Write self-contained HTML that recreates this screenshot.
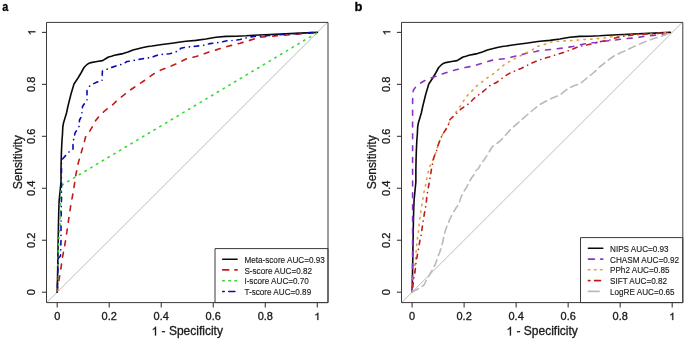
<!DOCTYPE html>
<html><head><meta charset="utf-8"><title>ROC curves</title>
<style>html,body{margin:0;padding:0;background:#fff;width:685px;height:340px;overflow:hidden}svg{display:block;filter:blur(0.4px)}text{font-family:"Liberation Sans",sans-serif;filter:grayscale(1);stroke:#1a1a1a;stroke-width:0.3px}text.lg{stroke-width:0.15px}</style>
</head><body>
<svg width="685" height="340" viewBox="0 0 685 340" font-family="Liberation Sans, sans-serif" stroke-linejoin="round">
<rect width="685" height="340" fill="#fff"/>
<line x1="46.80" y1="302.59" x2="327.70" y2="22.01" stroke="#bdbdbd" stroke-width="1"/>
<polyline points="57.20,292.20 57.60,275.00 57.90,258.00 58.10,245.00 58.30,234.00 58.50,222.00 58.80,210.00 59.20,200.00 60.00,192.00 61.00,182.00 61.00,170.00 61.20,160.00 61.50,150.00 62.00,140.00 62.50,134.00 62.80,127.00 63.50,123.00 65.00,118.00 66.50,113.00 68.00,106.00 69.50,100.00 71.00,94.00 72.50,89.00 74.00,84.00 76.00,81.00 78.00,78.00 81.00,73.00 84.00,67.50 86.50,65.00 88.00,63.80 91.00,62.60 97.00,61.50 102.60,60.60 105.60,58.80 108.50,57.00 111.50,56.20 114.40,55.30 119.00,54.40 123.00,53.60 128.00,52.00 133.00,50.00 138.00,48.80 143.00,47.50 148.00,46.50 152.00,46.00 162.00,44.50 172.00,43.20 182.00,41.80 186.00,41.20 196.00,40.40 206.00,39.00 216.00,37.20 226.00,36.40 236.00,36.20 246.00,35.80 254.00,35.20 270.00,34.50 290.00,33.60 317.35,32.40" fill="none" stroke="#0a0a0a" stroke-width="1.6" stroke-linecap="round" stroke-linejoin="round"/>
<polyline points="57.20,292.20 58.00,286.00 59.00,280.00 61.00,268.00 62.00,260.00 63.50,252.00 65.00,244.00 67.00,231.00 68.00,224.00 70.50,207.00 72.50,196.00 74.50,184.00 76.00,174.00 78.50,162.00 80.00,157.00 82.00,150.00 84.00,143.50 85.50,137.00 89.00,132.50 92.50,126.50 95.00,121.50 98.50,117.00 103.50,112.00 107.50,108.50 113.00,104.50 118.00,99.50 122.00,96.50 127.50,92.00 132.50,88.50 138.50,84.50 144.50,80.50 149.00,77.50 152.00,75.00 157.00,72.00 162.00,69.50 165.00,68.50 171.00,66.00 176.00,64.00 182.00,61.00 186.00,59.00 196.00,56.50 204.00,53.80 210.00,51.60 215.00,50.30 221.60,48.10 228.00,46.30 234.40,44.60 240.00,43.20 246.00,41.50 254.00,39.00 260.00,37.20 280.00,35.50 300.00,34.00 317.35,32.40" fill="none" stroke="#c21a1a" stroke-width="1.6" stroke-linecap="round" stroke-linejoin="round" stroke-dasharray="4.90,6.90"/>
<polyline points="57.20,292.20 57.80,270.00 58.50,250.00 59.00,236.00 60.00,226.00 60.30,208.00 60.80,193.00 62.50,184.70 317.35,32.60" fill="none" stroke="#35d835" stroke-width="1.6" stroke-linecap="round" stroke-linejoin="round" stroke-dasharray="1.40,5.30"/>
<polyline points="57.20,292.20 57.60,280.00 58.00,265.00 58.50,258.00 60.50,256.00 61.00,240.00 61.00,226.00 61.30,205.00 61.50,198.00 61.50,185.00 61.50,174.00 61.50,160.00 63.00,158.50 67.00,154.00 70.00,151.00 73.00,149.00 73.00,142.00 74.00,138.00 75.00,133.00 77.00,130.00 79.00,126.50 79.50,120.00 81.50,116.50 82.00,112.00 82.50,106.50 84.50,103.50 87.00,100.00 87.00,90.00 90.00,85.60 97.00,82.00 102.00,81.00 102.40,71.00 105.00,70.00 110.00,68.00 118.00,65.20 123.00,64.20 127.00,61.50 131.00,61.00 136.00,60.00 141.00,59.00 146.00,58.20 151.00,57.50 155.00,56.00 159.00,54.50 164.00,54.30 169.50,53.80 174.00,52.50 178.00,51.00 181.00,48.20 186.00,47.20 196.00,46.20 205.00,45.00 210.00,43.60 220.00,42.30 228.00,40.60 235.00,40.40 240.00,39.50 245.00,38.20 250.00,37.00 254.00,36.50 270.00,35.50 290.00,34.00 317.35,32.40" fill="none" stroke="#0b0bb0" stroke-width="1.6" stroke-linecap="round" stroke-linejoin="round" stroke-dasharray="0.10,4.90,4.40,5.00"/>
<rect x="215.0" y="248.6" width="113.00" height="54.00" fill="#fff" stroke="#3a3a3a" stroke-width="1"/>
<line x1="222.70000000000002" y1="259.2" x2="237.1" y2="259.2" stroke="#0a0a0a" stroke-width="1.6" stroke-linecap="round"/>
<text class="lg" transform="translate(244.4,262.80) scale(0.858,1)" font-size="9.5" fill="#1a1a1a">Meta-score AUC=0.93</text>
<line x1="222.70000000000002" y1="269.9" x2="237.1" y2="269.9" stroke="#c21a1a" stroke-width="1.6" stroke-linecap="round" stroke-dasharray="6.10,6.10"/>
<text class="lg" transform="translate(244.4,273.50) scale(0.858,1)" font-size="9.5" fill="#1a1a1a">S-score AUC=0.82</text>
<line x1="222.70000000000002" y1="280.7" x2="237.1" y2="280.7" stroke="#35d835" stroke-width="1.6" stroke-linecap="round" stroke-dasharray="1.52,4.57"/>
<text class="lg" transform="translate(244.4,284.30) scale(0.858,1)" font-size="9.5" fill="#1a1a1a">I-score AUC=0.70</text>
<line x1="222.70000000000002" y1="291.5" x2="237.1" y2="291.5" stroke="#0b0bb0" stroke-width="1.6" stroke-linecap="round" stroke-dasharray="1.52,4.57,6.10,4.57"/>
<text class="lg" transform="translate(244.4,295.10) scale(0.858,1)" font-size="9.5" fill="#1a1a1a">T-score AUC=0.89</text>
<rect x="46.50" y="22.40" width="281.50" height="280.20" fill="none" stroke="#3a3a3a" stroke-width="1"/>
<line x1="57.20" y1="302.60" x2="57.20" y2="307.40" stroke="#3a3a3a" stroke-width="1.1"/>
<text transform="translate(57.20,320.0) scale(1.1,1)" font-size="10" text-anchor="middle" fill="#1a1a1a">0</text>
<line x1="46.50" y1="292.20" x2="41.90" y2="292.20" stroke="#3a3a3a" stroke-width="1.1"/>
<text transform="translate(35.30,292.20) rotate(-90) scale(1.1,1)" x="0" y="0" font-size="10" text-anchor="middle" fill="#1a1a1a">0</text>
<line x1="109.22" y1="302.60" x2="109.22" y2="307.40" stroke="#3a3a3a" stroke-width="1.1"/>
<text transform="translate(109.22,320.0) scale(1.1,1)" font-size="10" text-anchor="middle" fill="#1a1a1a">0.2</text>
<line x1="46.50" y1="240.24" x2="41.90" y2="240.24" stroke="#3a3a3a" stroke-width="1.1"/>
<text transform="translate(35.30,240.24) rotate(-90) scale(1.1,1)" x="0" y="0" font-size="10" text-anchor="middle" fill="#1a1a1a">0.2</text>
<line x1="161.24" y1="302.60" x2="161.24" y2="307.40" stroke="#3a3a3a" stroke-width="1.1"/>
<text transform="translate(161.24,320.0) scale(1.1,1)" font-size="10" text-anchor="middle" fill="#1a1a1a">0.4</text>
<line x1="46.50" y1="188.28" x2="41.90" y2="188.28" stroke="#3a3a3a" stroke-width="1.1"/>
<text transform="translate(35.30,188.28) rotate(-90) scale(1.1,1)" x="0" y="0" font-size="10" text-anchor="middle" fill="#1a1a1a">0.4</text>
<line x1="213.26" y1="302.60" x2="213.26" y2="307.40" stroke="#3a3a3a" stroke-width="1.1"/>
<text transform="translate(213.26,320.0) scale(1.1,1)" font-size="10" text-anchor="middle" fill="#1a1a1a">0.6</text>
<line x1="46.50" y1="136.32" x2="41.90" y2="136.32" stroke="#3a3a3a" stroke-width="1.1"/>
<text transform="translate(35.30,136.32) rotate(-90) scale(1.1,1)" x="0" y="0" font-size="10" text-anchor="middle" fill="#1a1a1a">0.6</text>
<line x1="265.28" y1="302.60" x2="265.28" y2="307.40" stroke="#3a3a3a" stroke-width="1.1"/>
<text transform="translate(265.28,320.0) scale(1.1,1)" font-size="10" text-anchor="middle" fill="#1a1a1a">0.8</text>
<line x1="46.50" y1="84.36" x2="41.90" y2="84.36" stroke="#3a3a3a" stroke-width="1.1"/>
<text transform="translate(35.30,84.36) rotate(-90) scale(1.1,1)" x="0" y="0" font-size="10" text-anchor="middle" fill="#1a1a1a">0.8</text>
<line x1="317.30" y1="302.60" x2="317.30" y2="307.40" stroke="#3a3a3a" stroke-width="1.1"/>
<g transform="translate(317.30,320.0)"><path transform="translate(-3.059,0) scale(0.005371,-0.004883)" d="M763 0H583V1147Q518 1085 412.5 1023T223 930V1104Q373 1175 485.5 1276T645 1472H763V0Z" fill="#1a1a1a" stroke="#1a1a1a" stroke-width="0.3" vector-effect="non-scaling-stroke"/></g>
<line x1="46.50" y1="32.40" x2="41.90" y2="32.40" stroke="#3a3a3a" stroke-width="1.1"/>
<g transform="translate(35.30,32.40) rotate(-90)"><path transform="translate(-3.059,0) scale(0.005371,-0.004883)" d="M763 0H583V1147Q518 1085 412.5 1023T223 930V1104Q373 1175 485.5 1276T645 1472H763V0Z" fill="#1a1a1a" stroke="#1a1a1a" stroke-width="0.3" vector-effect="non-scaling-stroke"/></g>
<g transform="translate(0,335.4)"><path transform="translate(151.570,0) scale(0.005859,-0.005859)" d="M763 0H583V1147Q518 1085 412.5 1023T223 930V1104Q373 1175 485.5 1276T645 1472H763V0Z" fill="#1a1a1a" stroke="#1a1a1a" stroke-width="0.3" vector-effect="non-scaling-stroke"/></g>
<text x="158.24" y="335.4" font-size="12" fill="#1a1a1a" xml:space="preserve"> - Specificity</text>
<text transform="translate(21.50,162.30) rotate(-90)" font-size="12" text-anchor="middle" fill="#1a1a1a">Sensitivity</text>
<text transform="translate(2.2,11) scale(0.84,1)" font-size="13" font-weight="bold" fill="#000">a</text>
<line x1="401.70" y1="302.59" x2="682.60" y2="22.01" stroke="#bdbdbd" stroke-width="1"/>
<polyline points="412.10,292.20 412.50,275.00 412.79,258.00 412.99,245.00 413.19,234.00 413.39,222.00 413.69,210.00 414.09,200.00 414.88,192.00 415.87,182.00 415.87,170.00 416.07,160.00 416.37,150.00 416.86,140.00 417.36,134.00 417.66,127.00 418.35,123.00 419.84,118.00 421.33,113.00 422.82,106.00 424.31,100.00 425.80,94.00 427.29,89.00 428.78,84.00 430.76,81.00 432.75,78.00 435.73,73.00 438.70,67.50 441.19,65.00 442.68,63.80 445.65,62.60 451.61,61.50 457.17,60.60 460.15,58.80 463.03,57.00 466.00,56.20 468.88,55.30 473.45,54.40 477.42,53.60 482.38,52.00 487.35,50.00 492.31,48.80 497.27,47.50 502.24,46.50 506.21,46.00 516.13,44.50 526.06,43.20 535.99,41.80 539.96,41.20 549.89,40.40 559.81,39.00 569.74,37.20 579.67,36.40 589.59,36.20 599.52,35.80 607.46,35.20 623.35,34.50 643.20,33.60 670.35,32.40" fill="none" stroke="#0a0a0a" stroke-width="1.6" stroke-linecap="round" stroke-linejoin="round"/>
<polyline points="412.30,292.20 412.60,250.00 412.60,200.00 412.60,102.00 412.80,93.00 413.50,90.00 416.00,86.50 419.00,84.00 424.00,81.00 428.00,79.00 434.00,77.00 438.00,75.50 445.00,73.00 455.00,70.00 465.00,67.60 473.00,66.00 483.00,63.00 493.00,60.00 506.00,58.50 514.00,56.50 524.00,54.00 529.00,52.50 536.00,51.50 540.00,50.50 551.00,49.50 563.00,48.00 573.00,46.50 579.00,45.00 584.00,44.00 589.00,43.00 596.00,42.50 606.00,41.00 612.00,40.50 622.00,39.00 634.00,38.00 646.00,36.00 657.00,35.00 665.00,33.80 670.20,32.50" fill="none" stroke="#8c33c4" stroke-width="1.6" stroke-linecap="round" stroke-linejoin="round" stroke-dasharray="4.90,6.90"/>
<polyline points="412.10,292.20 413.00,280.00 414.50,268.00 415.50,259.00 416.00,253.00 416.50,247.00 417.00,241.00 418.00,235.00 419.00,228.00 419.20,223.00 420.50,214.00 422.00,204.00 424.00,192.00 425.00,188.00 427.00,178.00 429.00,168.00 432.00,162.00 434.00,157.00 436.50,151.00 438.00,145.50 440.00,140.00 442.50,134.50 445.50,130.00 448.00,126.00 450.00,120.00 456.00,112.00 461.00,105.00 466.00,97.00 470.00,93.00 473.00,90.00 476.00,86.50 480.00,83.50 483.50,81.00 487.00,78.00 491.00,75.50 495.00,72.50 498.50,69.50 502.00,66.50 506.00,63.50 510.50,61.00 515.00,58.50 520.00,56.00 526.00,53.00 532.00,50.00 537.00,46.50 543.00,45.00 549.00,42.50 555.00,41.50 561.00,41.00 567.00,40.80 573.00,40.50 584.00,39.50 594.00,39.00 604.00,38.00 609.00,37.00 630.00,35.00 650.00,34.00 670.20,32.50" fill="none" stroke="#dca040" stroke-width="1.6" stroke-linecap="round" stroke-linejoin="round" stroke-dasharray="1.40,5.30"/>
<polyline points="412.10,292.20 412.50,290.00 413.50,280.00 415.00,272.00 416.00,263.00 417.00,257.00 419.00,246.00 420.00,240.00 421.00,236.00 422.00,229.00 423.00,222.00 424.50,213.00 426.00,205.00 427.00,195.00 429.00,184.00 432.00,166.00 434.00,157.00 436.50,151.00 438.00,145.50 440.00,140.00 442.50,134.50 445.50,130.00 448.00,126.00 450.00,119.50 455.00,115.00 461.00,109.00 464.00,107.00 469.00,103.50 474.00,98.50 477.00,96.00 482.00,92.50 486.00,89.00 490.00,85.50 496.50,82.50 501.00,79.00 506.00,75.50 511.00,72.50 516.00,70.50 521.00,68.50 526.00,66.00 532.00,63.00 537.00,61.00 542.00,59.00 549.00,57.00 557.00,54.50 565.00,52.00 569.00,50.50 573.00,49.00 579.00,46.50 584.00,45.50 589.00,44.50 596.00,43.00 601.00,41.50 606.00,40.50 610.00,40.00 615.00,38.00 622.00,36.50 629.00,35.50 638.00,34.50 655.00,33.50 670.20,32.50" fill="none" stroke="#c21a1a" stroke-width="1.6" stroke-linecap="round" stroke-linejoin="round" stroke-dasharray="0.10,4.90,4.40,5.00"/>
<polyline points="412.10,292.20 414.00,291.00 419.00,288.50 424.00,285.00 426.00,281.00 428.50,276.50 431.50,271.50 434.50,266.00 436.50,261.00 438.00,256.00 439.50,253.00 441.00,248.00 442.50,243.00 444.00,236.00 445.50,230.00 447.50,225.00 449.50,220.00 452.50,214.00 456.00,208.00 459.00,204.00 461.00,197.00 463.50,192.00 466.50,187.50 468.50,183.50 471.50,178.00 474.50,174.00 476.00,170.50 478.50,168.50 480.50,164.50 484.00,160.00 486.00,157.00 488.50,153.00 492.00,147.00 500.00,141.00 503.00,138.00 511.00,129.00 519.00,122.00 527.00,115.00 533.00,110.00 539.00,105.00 550.00,99.00 560.00,95.00 568.00,88.50 573.50,86.00 580.50,83.50 584.00,80.50 592.00,74.00 596.00,70.50 599.50,67.00 604.00,63.50 609.00,59.50 614.00,56.00 621.00,52.50 627.00,50.00 634.00,46.50 638.00,45.00 642.00,43.00 647.00,41.00 654.00,38.50 659.00,37.00 665.00,35.00 670.20,32.50" fill="none" stroke="#bababa" stroke-width="1.6" stroke-linecap="round" stroke-linejoin="round" stroke-dasharray="7.20,4.50"/>
<rect x="580.5" y="237.6" width="102.30" height="65.00" fill="#fff" stroke="#3a3a3a" stroke-width="1"/>
<line x1="588.4" y1="248.3" x2="602.8000000000001" y2="248.3" stroke="#0a0a0a" stroke-width="1.6" stroke-linecap="round"/>
<text class="lg" transform="translate(610.0,251.90) scale(0.858,1)" font-size="9.5" fill="#1a1a1a">NIPS AUC=0.93</text>
<line x1="588.4" y1="259.1" x2="602.8000000000001" y2="259.1" stroke="#8c33c4" stroke-width="1.6" stroke-linecap="round" stroke-dasharray="6.10,6.10"/>
<text class="lg" transform="translate(610.0,262.70) scale(0.858,1)" font-size="9.5" fill="#1a1a1a">CHASM AUC=0.92</text>
<line x1="588.4" y1="269.8" x2="602.8000000000001" y2="269.8" stroke="#dca040" stroke-width="1.6" stroke-linecap="round" stroke-dasharray="1.52,4.57"/>
<text class="lg" transform="translate(610.0,273.40) scale(0.858,1)" font-size="9.5" fill="#1a1a1a">PPh2 AUC=0.85</text>
<line x1="588.4" y1="280.6" x2="602.8000000000001" y2="280.6" stroke="#c21a1a" stroke-width="1.6" stroke-linecap="round" stroke-dasharray="1.52,4.57,6.10,4.57"/>
<text class="lg" transform="translate(610.0,284.20) scale(0.858,1)" font-size="9.5" fill="#1a1a1a">SIFT AUC=0.82</text>
<line x1="588.4" y1="291.4" x2="602.8000000000001" y2="291.4" stroke="#bababa" stroke-width="1.6" stroke-linecap="round" stroke-dasharray="10.67,4.57"/>
<text class="lg" transform="translate(610.0,295.00) scale(0.858,1)" font-size="9.5" fill="#1a1a1a">LogRE AUC=0.65</text>
<rect x="401.50" y="22.40" width="281.30" height="280.20" fill="none" stroke="#3a3a3a" stroke-width="1"/>
<line x1="412.10" y1="302.60" x2="412.10" y2="307.40" stroke="#3a3a3a" stroke-width="1.1"/>
<text transform="translate(412.10,320.0) scale(1.1,1)" font-size="10" text-anchor="middle" fill="#1a1a1a">0</text>
<line x1="401.50" y1="292.20" x2="396.90" y2="292.20" stroke="#3a3a3a" stroke-width="1.1"/>
<text transform="translate(390.20,292.20) rotate(-90) scale(1.1,1)" x="0" y="0" font-size="10" text-anchor="middle" fill="#1a1a1a">0</text>
<line x1="464.12" y1="302.60" x2="464.12" y2="307.40" stroke="#3a3a3a" stroke-width="1.1"/>
<text transform="translate(464.12,320.0) scale(1.1,1)" font-size="10" text-anchor="middle" fill="#1a1a1a">0.2</text>
<line x1="401.50" y1="240.24" x2="396.90" y2="240.24" stroke="#3a3a3a" stroke-width="1.1"/>
<text transform="translate(390.20,240.24) rotate(-90) scale(1.1,1)" x="0" y="0" font-size="10" text-anchor="middle" fill="#1a1a1a">0.2</text>
<line x1="516.14" y1="302.60" x2="516.14" y2="307.40" stroke="#3a3a3a" stroke-width="1.1"/>
<text transform="translate(516.14,320.0) scale(1.1,1)" font-size="10" text-anchor="middle" fill="#1a1a1a">0.4</text>
<line x1="401.50" y1="188.28" x2="396.90" y2="188.28" stroke="#3a3a3a" stroke-width="1.1"/>
<text transform="translate(390.20,188.28) rotate(-90) scale(1.1,1)" x="0" y="0" font-size="10" text-anchor="middle" fill="#1a1a1a">0.4</text>
<line x1="568.16" y1="302.60" x2="568.16" y2="307.40" stroke="#3a3a3a" stroke-width="1.1"/>
<text transform="translate(568.16,320.0) scale(1.1,1)" font-size="10" text-anchor="middle" fill="#1a1a1a">0.6</text>
<line x1="401.50" y1="136.32" x2="396.90" y2="136.32" stroke="#3a3a3a" stroke-width="1.1"/>
<text transform="translate(390.20,136.32) rotate(-90) scale(1.1,1)" x="0" y="0" font-size="10" text-anchor="middle" fill="#1a1a1a">0.6</text>
<line x1="620.18" y1="302.60" x2="620.18" y2="307.40" stroke="#3a3a3a" stroke-width="1.1"/>
<text transform="translate(620.18,320.0) scale(1.1,1)" font-size="10" text-anchor="middle" fill="#1a1a1a">0.8</text>
<line x1="401.50" y1="84.36" x2="396.90" y2="84.36" stroke="#3a3a3a" stroke-width="1.1"/>
<text transform="translate(390.20,84.36) rotate(-90) scale(1.1,1)" x="0" y="0" font-size="10" text-anchor="middle" fill="#1a1a1a">0.8</text>
<line x1="672.20" y1="302.60" x2="672.20" y2="307.40" stroke="#3a3a3a" stroke-width="1.1"/>
<g transform="translate(672.20,320.0)"><path transform="translate(-3.059,0) scale(0.005371,-0.004883)" d="M763 0H583V1147Q518 1085 412.5 1023T223 930V1104Q373 1175 485.5 1276T645 1472H763V0Z" fill="#1a1a1a" stroke="#1a1a1a" stroke-width="0.3" vector-effect="non-scaling-stroke"/></g>
<line x1="401.50" y1="32.40" x2="396.90" y2="32.40" stroke="#3a3a3a" stroke-width="1.1"/>
<g transform="translate(390.20,32.40) rotate(-90)"><path transform="translate(-3.059,0) scale(0.005371,-0.004883)" d="M763 0H583V1147Q518 1085 412.5 1023T223 930V1104Q373 1175 485.5 1276T645 1472H763V0Z" fill="#1a1a1a" stroke="#1a1a1a" stroke-width="0.3" vector-effect="non-scaling-stroke"/></g>
<g transform="translate(0,335.4)"><path transform="translate(506.470,0) scale(0.005859,-0.005859)" d="M763 0H583V1147Q518 1085 412.5 1023T223 930V1104Q373 1175 485.5 1276T645 1472H763V0Z" fill="#1a1a1a" stroke="#1a1a1a" stroke-width="0.3" vector-effect="non-scaling-stroke"/></g>
<text x="513.14" y="335.4" font-size="12" fill="#1a1a1a" xml:space="preserve"> - Specificity</text>
<text transform="translate(376.40,162.30) rotate(-90)" font-size="12" text-anchor="middle" fill="#1a1a1a">Sensitivity</text>
<text transform="translate(354.6,11) scale(1.0,1)" font-size="13" font-weight="bold" fill="#000">b</text>
</svg>
</body></html>
